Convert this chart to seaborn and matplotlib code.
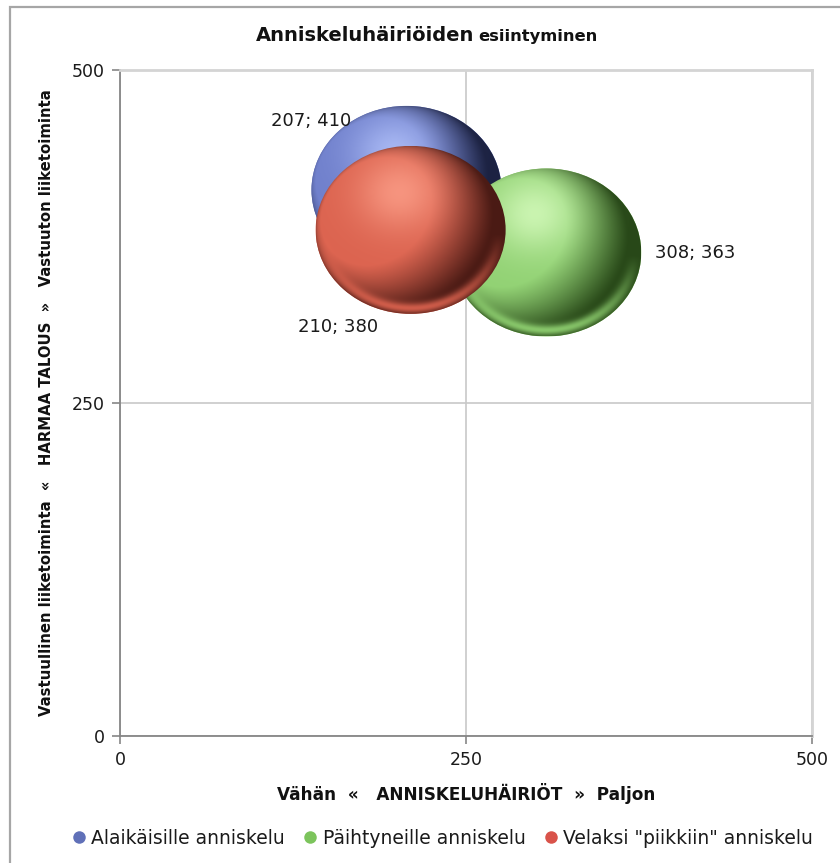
import numpy as np
import pandas as pd
import matplotlib
matplotlib.use("Agg")
import matplotlib.pyplot as plt
import matplotlib.colors as mcolors
import seaborn as sns
from matplotlib.path import Path
from matplotlib.patches import Ellipse, Rectangle
from matplotlib.lines import Line2D

# --- data -------------------------------------------------------------
series = ["Alaikäisille anniskelu", "Päihtyneille anniskelu", 'Velaksi "piikkiin" anniskelu']
x_vals = [207, 308, 210]
y_vals = [410, 363, 380]
x_ticks = [0, 250, 500]
y_ticks = [0, 250, 500]

title_main = "Anniskeluhäiriöiden"
title_sub = "esiintyminen"
x_title = "Vähän  «   ANNISKELUHÄIRIÖT  »  Paljon"
y_title = "Vastuullinen liiketoiminta  «   HARMAA TALOUS  »   Vastuuton liiketoiminta"

# --- colours for each series: base, highlight, shadow -------------------
base_col = {series[0]: "#7080cc", series[1]: "#92d274", series[2]: "#dc6450"}
light_col = {series[0]: "#b8c8ff", series[1]: "#dcffc4", series[2]: "#ffa48e"}
dark_col = {series[0]: "#1c2242", series[1]: "#284818", series[2]: "#4a1a14"}
legend_col = {series[0]: "#6070b8", series[1]: "#7cc45c", series[2]: "#d9534a"}

df = pd.DataFrame({"serie": series, "x": x_vals, "y": y_vals})

sns.set_theme(style="white")
plt.rcParams["font.family"] = ["DejaVu Sans"]

W, H, DPI = 840, 863, 100
fig = plt.figure(figsize=(W / DPI, H / DPI), dpi=DPI)
ax = fig.add_axes([120 / W, 1 - 736 / H, 692 / W, 666 / H])
ax.set_xlim(0, 500)
ax.set_ylim(0, 500)

# bubble footprint in pixels (drawn slightly flattened)
BW, BH = 190, 168
theta = np.linspace(0, 2 * np.pi, 200)
ell_marker = Path(np.c_[0.5 * np.cos(theta), 0.5 * BH / BW * np.sin(theta)], closed=True)

sns.scatterplot(data=df, x="x", y="y", hue="serie", palette=base_col,
                marker=ell_marker, s=(BW * 72 / DPI) ** 2, linewidth=0,
                legend=False, ax=ax, zorder=3)


def sphere(base, light, dark, hx=-0.12, hy=0.45, n=320):
    t = np.linspace(-1, 1, n)
    u, v = np.meshgrid(t, t)
    r2 = u ** 2 + v ** 2
    r = np.sqrt(r2)
    z = np.sqrt(np.clip(1 - r2, 0, 1))
    L = np.array([-0.5, 0.3, 0.82])
    L /= np.linalg.norm(L)
    diff = np.clip(u * L[0] + v * L[1] + z * L[2], 0, 1)
    spec = np.exp(-((u - hx) ** 2 + (v - hy) ** 2) / (2 * 0.32 ** 2))
    rim = np.exp(-((r - 0.93) ** 2) / (2 * 0.045 ** 2)) * np.clip(-v - 0.05, 0, 1)
    b, li, d = [np.array(mcolors.to_rgb(c)) for c in (base, light, dark)]
    f = np.clip(diff * 1.35, 0, 1)[..., None] ** 1.3
    rgb = d + (b - d) * f
    rgb = rgb + (li - rgb) * (0.75 * spec[..., None])
    rgb = rgb + (b * 1.1 - rgb) * (0.9 * rim[..., None])
    return np.clip(rgb, 0, 1)


# shaded overlay on every bubble, following the series order
inv = ax.transData.inverted()
for i, (s, xv, yv) in enumerate(zip(series, x_vals, y_vals)):
    cx, cy = ax.transData.transform((xv, yv))
    x0, y0 = inv.transform((cx - BW / 2, cy - BH / 2))
    x1, y1 = inv.transform((cx + BW / 2, cy + BH / 2))
    img = sphere(base_col[s], light_col[s], dark_col[s])
    im = ax.imshow(img, extent=(x0, x1, y0, y1), origin="lower", aspect="auto",
                   interpolation="bilinear", zorder=4 + i * 0.1)
    clip = Ellipse(((x0 + x1) / 2, (y0 + y1) / 2), x1 - x0, y1 - y0,
                   transform=ax.transData)
    im.set_clip_path(clip)

ax.set_xlim(0, 500)
ax.set_ylim(0, 500)

# data labels "x; y"
label_offsets = [(-95, 69, "center"), (109, -1, "left"), (-73, -97, "center")]
for (dx, dy, ha), xv, yv in zip(label_offsets, x_vals, y_vals):
    ax.annotate(f"{xv}; {yv}", xy=(xv, yv), xytext=(dx, dy),
                textcoords="offset pixels", ha=ha, va="center",
                fontsize=13, color="#1a1a1a", zorder=6)

# axes styling
ax.set_xticks(x_ticks)
ax.set_yticks(y_ticks)
ax.grid(True, color="#c8c8c8", linewidth=1.2)
ax.set_axisbelow(True)
for side in ("left", "bottom"):
    ax.spines[side].set_color("#868686")
    ax.spines[side].set_linewidth(1.3)
for side in ("top", "right"):
    ax.spines[side].set_color("#d4d4d4")
    ax.spines[side].set_linewidth(2)
ax.tick_params(axis="both", direction="out", length=6, width=1.2, color="#868686",
               labelsize=12.5, labelcolor="#1a1a1a", bottom=True, left=True, pad=5)

ax.set_xlabel(x_title, fontsize=12.2, fontweight="bold",
              color="#111111", labelpad=10)
ax.set_ylabel(y_title, fontsize=10.7, fontweight="bold",
              color="#111111", labelpad=13)

# two-size title
fig.canvas.draw()
r = fig.canvas.get_renderer()
t1 = fig.text(256 / W, 1 - 41 / H, title_main, fontsize=14, fontweight="bold",
              color="#111111", ha="left", va="baseline")
bb = t1.get_window_extent(renderer=r)
fig.text((bb.x1 + 4) / W, 1 - 41 / H, title_sub, fontsize=11.8, fontweight="bold",
         color="#111111", ha="left", va="baseline")

# legend
handles = [Line2D([], [], marker="o", linestyle="", markersize=9,
                  markerfacecolor=legend_col[s], markeredgecolor="none", label=s)
           for s in series]
fig.legend(handles=handles, loc="center", bbox_to_anchor=(439 / W, 1 - 838 / H),
           ncol=3, frameon=False, fontsize=13.5, handletextpad=-0.1,
           handlelength=1.5, columnspacing=0.6, labelcolor="#1a1a1a")

# chart area frame
fig.patches.append(Rectangle((10 / W, -0.1), 1.2, 1 - 7 / H + 0.1,
                             transform=fig.transFigure, fill=False,
                             edgecolor="#a6a6a6", linewidth=1.6))

fig.savefig("out.png", dpi=DPI)
